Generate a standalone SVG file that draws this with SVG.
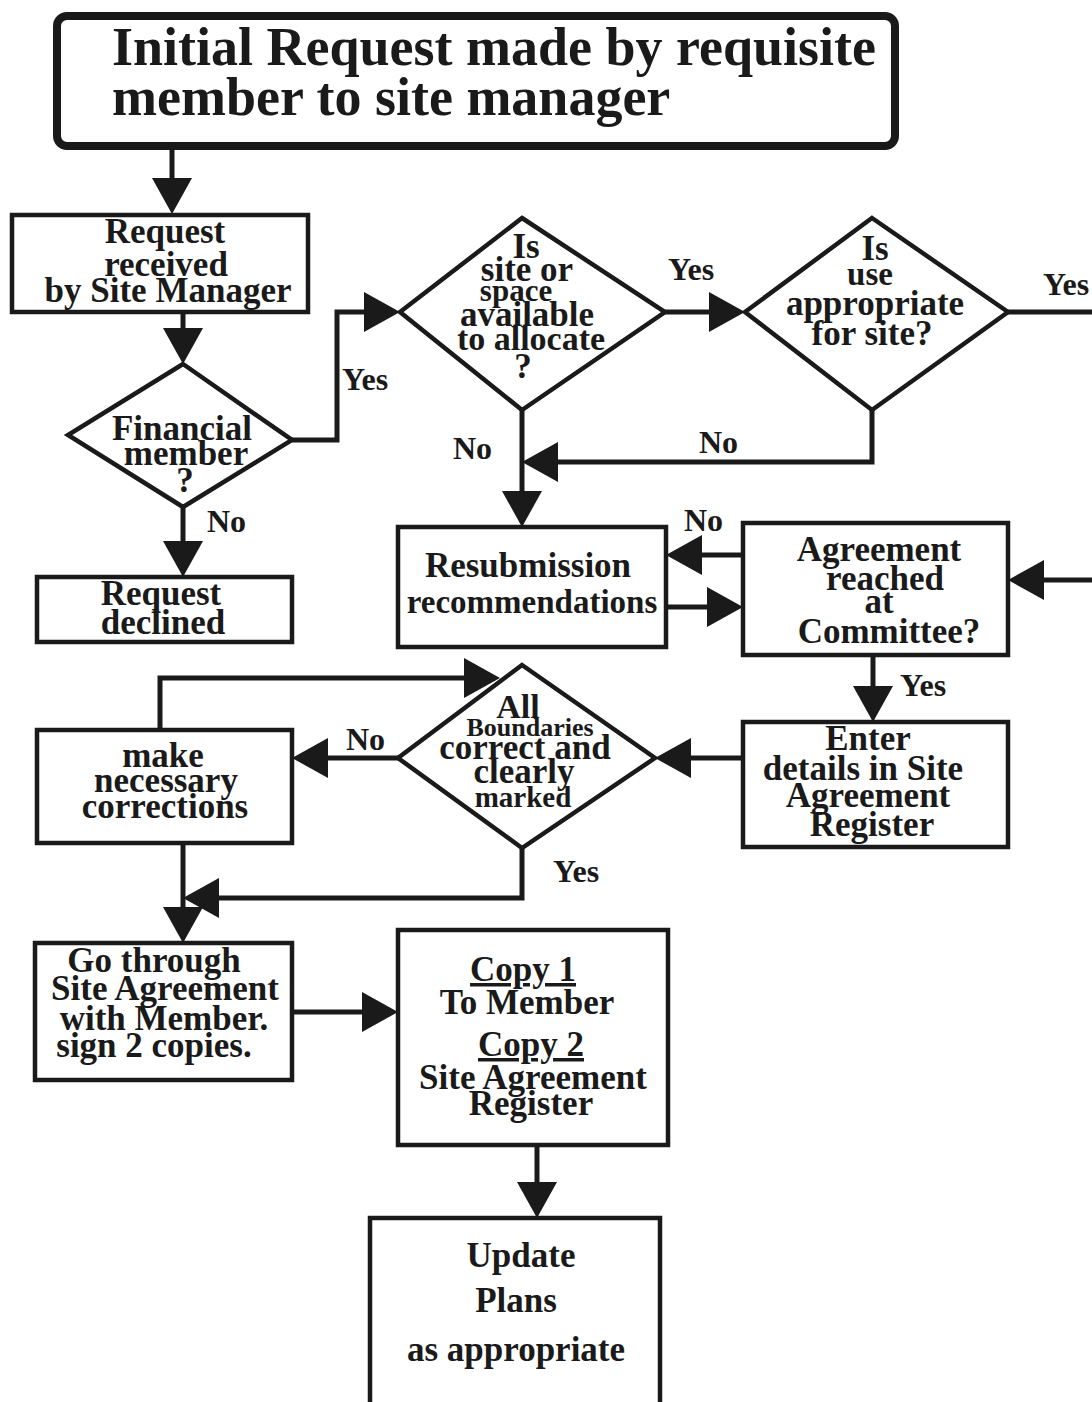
<svg xmlns="http://www.w3.org/2000/svg" width="1092" height="1402" viewBox="0 0 1092 1402">
<style>
.bx{fill:#fff;stroke:#1a1a1a;stroke-width:4.5}
.tb{fill:#fff;stroke:#1a1a1a;stroke-width:8}
.c{fill:none;stroke:#1a1a1a;stroke-width:5;marker-end:url(#ah)}
text{font-family:"Liberation Serif","Times New Roman",serif;font-weight:bold;fill:#1a1a1a}
.t{font-size:35px;text-anchor:middle}
.l{font-size:32px}
.h{font-size:54px}
</style>
<defs>
<marker id="ah" markerUnits="userSpaceOnUse" viewBox="0 -20 36 40" markerWidth="36" markerHeight="40" refX="0" refY="0" orient="auto" overflow="visible">
<path d="M0,-20 L36,0 L0,20 Z" fill="#1a1a1a"/>
</marker>
</defs>
<rect width="1092" height="1402" fill="#fff"/>
<g id="connectors">
<path class="c" d="M172,148 V178"/>
<path class="c" d="M183,312 V328"/>
<path class="c" d="M292,440 H337 V312 H364"/>
<path class="c" d="M183,507 V541"/>
<path class="c" d="M665,312 H709"/>
<path class="c" d="M1008,312 H1095 V580 H1044"/>
<path class="c" d="M872,410 V462 H558"/>
<path class="c" d="M522,410 V491"/>
<path class="c" d="M743,555 H702"/>
<path class="c" d="M666,607 H707"/>
<path class="c" d="M873,655 V686"/>
<path class="c" d="M743,758 H691"/>
<path class="c" d="M398,758 H328"/>
<path class="c" d="M160,730 V678 H464"/>
<path class="c" d="M522,848 V898 H219"/>
<path class="c" d="M183,843 V907"/>
<path class="c" d="M292,1012 H362"/>
<path class="c" d="M537,1145 V1182"/>
<text class="l" x="342" y="390">Yes</text>
<text class="l" x="207" y="532">No</text>
<text class="l" x="668" y="280">Yes</text>
<text class="l" x="1043" y="295">Yes</text>
<text class="l" x="453" y="459">No</text>
<text class="l" x="699" y="453">No</text>
<text class="l" x="684" y="531">No</text>
<text class="l" x="900" y="696">Yes</text>
<text class="l" x="346" y="750">No</text>
<text class="l" x="553" y="882">Yes</text>
</g>
<g id="title">
<rect class="tb" x="57" y="16" width="838" height="130" rx="10"/>
<text class="h" x="112" y="65">Initial Request made by requisite</text>
<text class="h" x="112" y="115">member to site manager</text>
</g>
<g id="received">
<rect class="bx" x="12" y="215" width="296" height="97"/>
<text class="t" x="165" y="243">Request</text>
<text class="t" x="166" y="276">received</text>
<text class="t" x="168" y="302">by Site Manager</text>
</g>
<g id="financial">
<polygon class="bx" points="183,364 292,440 183,507 68,435"/>
<text class="t" x="182" y="440">Financial</text>
<text class="t" x="186" y="465">member</text>
<text class="t" x="185" y="492">?</text>
</g>
<g id="declined">
<rect class="bx" x="37" y="577" width="255" height="65"/>
<text class="t" x="161" y="605">Request</text>
<text class="t" x="163" y="634">declined</text>
</g>
<g id="available">
<polygon class="bx" points="522,218 665,312 522,410 400,312"/>
<text class="t" x="526" y="258">Is</text>
<text class="t" x="527" y="281">site or</text>
<text class="t" x="516" y="301" style="font-size:31px">space</text>
<text class="t" x="527" y="326">available</text>
<text class="t" x="531" y="350" style="font-size:34px">to allocate</text>
<text class="t" x="523" y="378">?</text>
</g>
<g id="appropriate">
<polygon class="bx" points="872,218 1008,312 872,410 745,312"/>
<text class="t" x="875" y="260">Is</text>
<text class="t" x="870" y="285" style="font-size:33px">use</text>
<text class="t" x="875" y="315">appropriate</text>
<text class="t" x="872" y="345">for site?</text>
</g>
<g id="resubmission">
<rect class="bx" x="398" y="527" width="268" height="120"/>
<text class="t" x="528" y="577">Resubmission</text>
<text class="t" x="532" y="613" style="font-size:33px">recommendations</text>
</g>
<g id="committee">
<rect class="bx" x="743" y="523" width="265" height="132"/>
<text class="t" x="879" y="561">Agreement</text>
<text class="t" x="885" y="590">reached</text>
<text class="t" x="879" y="613">at</text>
<text class="t" x="889" y="643">Committee?</text>
</g>
<g id="enter">
<rect class="bx" x="743" y="722" width="265" height="125"/>
<text class="t" x="868" y="750">Enter</text>
<text class="t" x="863" y="780">details in Site</text>
<text class="t" x="868" y="807">Agreement</text>
<text class="t" x="872" y="836">Register</text>
</g>
<g id="boundaries">
<polygon class="bx" points="522,665 655,758 522,848 398,758"/>
<text class="t" x="518" y="718" style="font-size:34px">All</text>
<text class="t" x="530" y="736" style="font-size:26px">Boundaries</text>
<text class="t" x="525" y="759">correct and</text>
<text class="t" x="524" y="783">clearly</text>
<text class="t" x="523" y="807" style="font-size:29px">marked</text>
</g>
<g id="corrections">
<rect class="bx" x="37" y="730" width="255" height="113"/>
<text class="t" x="163" y="767">make</text>
<text class="t" x="166" y="792">necessary</text>
<text class="t" x="165" y="818">corrections</text>
</g>
<g id="goThrough">
<rect class="bx" x="35" y="943" width="257" height="137"/>
<text class="t" x="154" y="972">Go through</text>
<text class="t" x="165" y="1000">Site Agreement</text>
<text class="t" x="164" y="1030">with Member.</text>
<text class="t" x="154" y="1057">sign 2 copies.</text>
</g>
<g id="copies">
<rect class="bx" x="398" y="930" width="270" height="215"/>
<text class="t" x="523" y="981" text-decoration="underline">Copy 1</text>
<text class="t" x="527" y="1014">To Member</text>
<text class="t" x="531" y="1056" text-decoration="underline">Copy 2</text>
<text class="t" x="533" y="1089">Site Agreement</text>
<text class="t" x="531" y="1115">Register</text>
</g>
<g id="update">
<rect class="bx" x="370" y="1218" width="290" height="190"/>
<text class="t" x="521" y="1267">Update</text>
<text class="t" x="516" y="1312">Plans</text>
<text class="t" x="516" y="1361">as appropriate</text>
</g>
</svg>
